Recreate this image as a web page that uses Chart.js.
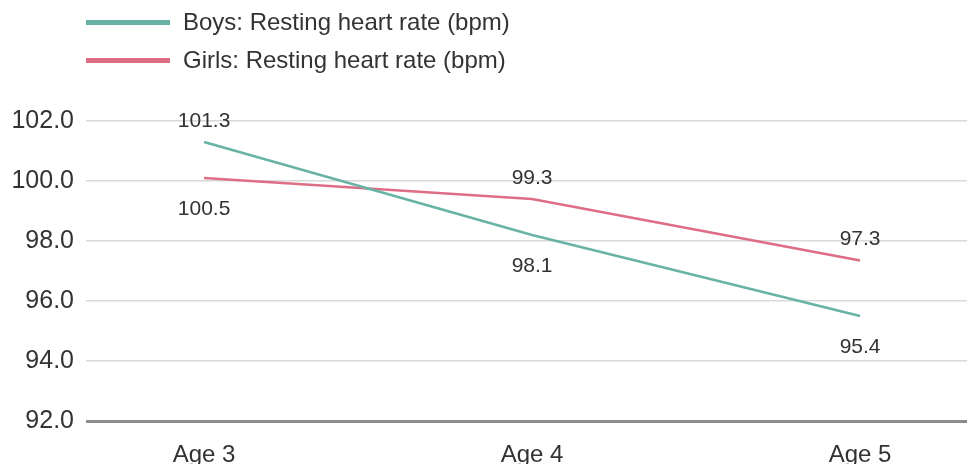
<!DOCTYPE html>
<html>
<head>
<meta charset="utf-8">
<script src="https://cdn.jsdelivr.net/npm/chart.js@4/dist/chart.umd.min.js"></script>
<style>
  html, body { margin: 0; padding: 0; background: #fff; }
  .wrap { position: relative; width: 967px; height: 464px; }
  #legend { position: absolute; left: 86px; top: 3px; font-family: "Liberation Sans", Arial, sans-serif; font-size: 24px; color: #333; }
  #legend .item { display: flex; align-items: center; height: 38px; }
  #legend .swatch { width: 84px; height: 5px; margin-right: 13px; }
</style>
</head>
<body>
<div class="wrap">
  <canvas id="chart" width="967" height="464"></canvas>
  <div id="legend"></div>
</div>
<script>
const categories = ['Age 3', 'Age 4', 'Age 5'];
const boysValues = [101.3, 98.2, 95.5];
const girlsValues = [100.1, 99.4, 97.35];
// value labels as printed on the chart
const boysLabels = ['101.3', '98.1', '95.4'];
const girlsLabels = ['100.5', '99.3', '97.3'];
const seriesNames = ['Boys: Resting heart rate (bpm)', 'Girls: Resting heart rate (bpm)'];
const seriesColors = ['#68b3a5', '#de6e86'];
const yTicks = [92, 94, 96, 98, 100, 102];

const FONT = '"Liberation Sans", Arial, sans-serif';

// html legend, stacked
const legend = document.getElementById('legend');
seriesNames.forEach((name, i) => {
    const item = document.createElement('div');
    item.className = 'item';
    item.innerHTML = `<span class="swatch" style="background:${seriesColors[i]}"></span><span>${name}</span>`;
    legend.appendChild(item);
});

const valueLabels = {
    id: 'valueLabels',
    afterDatasetsDraw(chart) {
        const ctx = chart.ctx;
        const texts = [boysLabels, girlsLabels];
        ctx.save();
        ctx.font = '21px ' + FONT;
        ctx.fillStyle = '#333';
        ctx.textAlign = 'center';
        ctx.textBaseline = 'middle';
        chart.data.datasets.forEach((ds, di) => {
            const meta = chart.getDatasetMeta(di);
            meta.data.forEach((pt, i) => {
                const others = chart.data.datasets.map(d => d.data[i].y);
                const isTop = ds.data[i].y === Math.max(...others);
                const y = isTop ? pt.y - 21 : pt.y + 31;
                ctx.fillText(texts[di][i], pt.x, y);
            });
        });
        ctx.restore();
    }
};

const toPoints = vals => vals.map((v, i) => ({ x: i, y: v }));

new Chart(document.getElementById('chart'), {
    type: 'line',
    data: {
        datasets: [
            { label: seriesNames[0], data: toPoints(boysValues), borderColor: seriesColors[0], borderWidth: 2.5, pointRadius: 0, tension: 0 },
            { label: seriesNames[1], data: toPoints(girlsValues), borderColor: seriesColors[1], borderWidth: 2.5, pointRadius: 0, tension: 0 }
        ]
    },
    options: {
        responsive: false,
        animation: false,
        layout: { padding: { top: 121, left: 0, right: 0, bottom: 0 } },
        plugins: {
            legend: { display: false },
            tooltip: { enabled: false }
        },
        scales: {
            x: {
                type: 'linear',
                min: -0.36,
                max: 2.326,
                afterBuildTicks: s => { s.ticks = categories.map((c, i) => ({ value: i })); },
                afterFit: s => { s.height = 43; },
                grid: { display: false },
                border: { display: false },
                ticks: {
                    padding: 12,
                    color: '#333',
                    font: { family: FONT, size: 24 },
                    callback: v => categories[v]
                }
            },
            y: {
                min: 92,
                max: 102,
                afterBuildTicks: s => { s.ticks = yTicks.map(v => ({ value: v })); },
                afterFit: s => { s.width = 86; },
                border: { display: false },
                grid: {
                    drawTicks: false,
                    color: c => c.tick.value === 92 ? '#8c8c8c' : '#d9d9d9',
                    lineWidth: c => c.tick.value === 92 ? 3 : 1.5
                },
                ticks: {
                    padding: 12,
                    color: '#333',
                    font: { family: FONT, size: 25 },
                    callback: v => v.toFixed(1)
                }
            }
        }
    },
    plugins: [valueLabels]
});
</script>
</body>
</html>
